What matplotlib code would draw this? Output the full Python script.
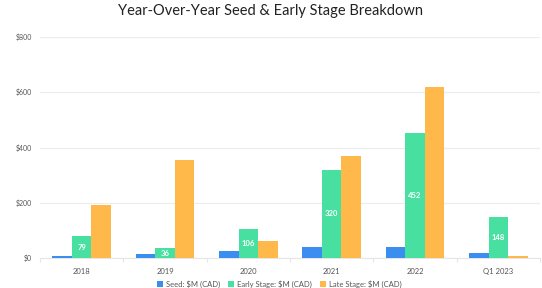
import numpy as np
import matplotlib
matplotlib.use("Agg")
import matplotlib.pyplot as plt

# ------------------------------- DATA ---------------------------------------
categories = ['2018', '2019', '2020', '2021', '2022', 'Q1 2023']
seed       = [7, 14, 25, 40, 40, 18]
early      = [79, 36, 106, 320, 452, 148]
late       = [192, 355, 62, 368, 619, 6]
series_names = ['Seed: $M (CAD)', 'Early Stage: $M (CAD)', 'Late Stage: $M (CAD)']
yticks = [0, 200, 400, 600, 800]

COLORS = ['#3b8ef0', '#47e0a0', '#ffb84a']

# ------------------------------- PLOT ---------------------------------------
plt.rcParams['font.family'] = ['Lato', 'DejaVu Sans']
fig = plt.figure(figsize=(5.42, 2.88), dpi=100)
ax = fig.add_axes([40 / 542, 1 - 258 / 288, 500 / 542, (258 - 37) / 288])

x = np.arange(len(categories))
w = 0.235
for k, (vals, c, name) in enumerate(zip([seed, early, late], COLORS, series_names)):
    bars = ax.bar(x + (k - 1) * w, vals, w, color=c, label=name, zorder=3)
    if k == 1:
        for b, v in zip(bars, vals):
            ax.text(b.get_x() + b.get_width() / 2, v / 2, f'{v}', ha='center',
                    va='center', color='white', fontsize=5.5, fontweight='bold',
                    zorder=4)

ax.set_xlim(-0.5, len(categories) - 0.5)
ax.set_ylim(0, 800)
ax.set_yticks(yticks)
ax.set_yticklabels([f'${v}' for v in yticks])
ax.set_xticks(x)
ax.set_xticklabels(categories)
ax.set_xticks(np.arange(len(categories) + 1) - 0.5, minor=True)
ax.tick_params(axis='y', length=0, labelsize=5, labelcolor='#555555', pad=6)
ax.tick_params(axis='x', which='major', length=0, labelsize=5.5,
               labelcolor='#555555', pad=7)
ax.tick_params(axis='x', which='minor', length=3, color='#e6e6e6', width=0.8)
ax.grid(axis='y', color='#ececec', lw=0.8, zorder=0)
for s in ['top', 'right', 'left']:
    ax.spines[s].set_visible(False)
ax.spines['bottom'].set_color('#e6e6e6')
ax.spines['bottom'].set_linewidth(0.8)

fig.suptitle('Year-Over-Year Seed & Early Stage Breakdown', x=0.5, y=0.985,
             fontsize=10.5, color='#222222')
fig.legend(loc='center', bbox_to_anchor=(0.515, 0.013), ncol=3, frameon=False,
           fontsize=5.5, handlelength=0.8, handleheight=0.8, handletextpad=0.4,
           columnspacing=1.0, labelcolor='#555555')

plt.savefig('out.png', dpi=100)
